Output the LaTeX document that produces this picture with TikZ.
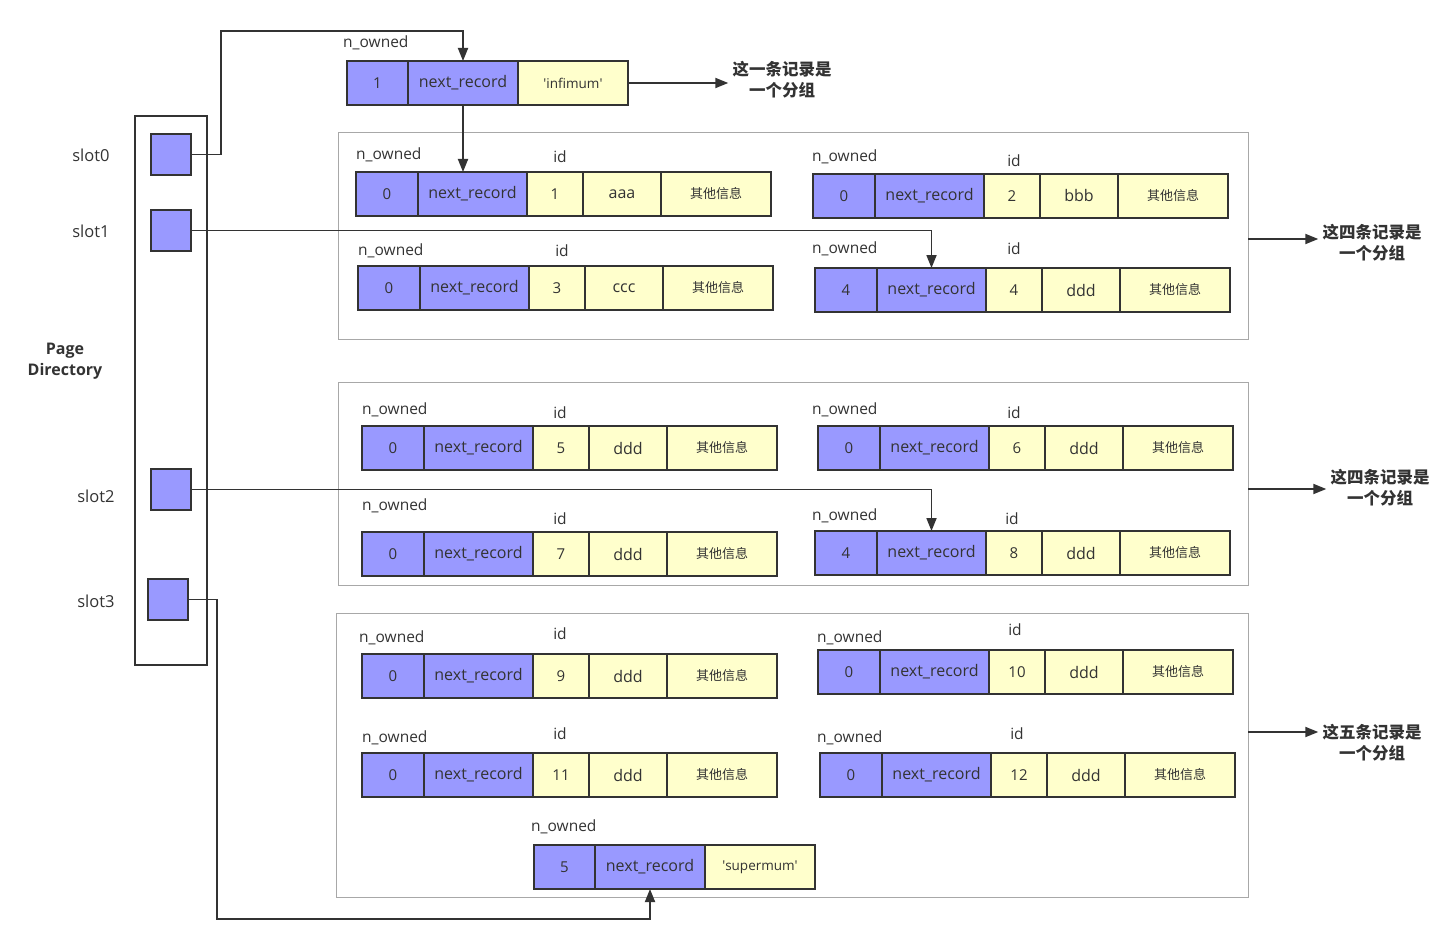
\documentclass[tikz,border=0pt]{standalone}
\usepackage{fontspec}
\setmainfont{Open Sans}
\newfontfamily\cjk{Noto Sans CJK SC}
\usetikzlibrary{arrows.meta}
\definecolor{cblue}{HTML}{9999FF}
\definecolor{cyel}{HTML}{FFFFCC}
\definecolor{cline}{HTML}{333333}
\definecolor{cgrey}{HTML}{A8A8A8}
\tikzset{
  cell/.style={draw=cline, line width=2pt, outer sep=0pt, inner sep=0pt,
    minimum height=44pt, anchor=north west, text=cline,
    font=\fontsize{15}{18}\selectfont},
  bcell/.style={cell, fill=cblue},
  ycell/.style={cell, fill=cyel},
  nrtext/.style={font=\fontsize{16}{19}\selectfont},
  smcjk/.style={font=\cjk\fontsize{13}{16}\selectfont},
  quoted/.style={font=\fontsize{13.5}{16}\selectfont},
  lab/.style={text=cline, inner sep=0pt, font=\fontsize{15.5}{18}\selectfont},
  slotbox/.style={draw=cline, line width=2pt, fill=cblue, outer sep=0pt,
    minimum width=40pt, minimum height=41pt, anchor=north west, inner sep=0pt},
  slotlab/.style={text=cline, font=\fontsize{16.5}{19}\selectfont},
  grp/.style={draw=cgrey, line width=1pt, anchor=north west, inner sep=0pt, outer sep=0pt},
  pdbox/.style={draw=cline, line width=2pt, anchor=north west, inner sep=0pt, outer sep=0pt},
  grplab/.style={text=cline, align=center, inner sep=4pt,
    font=\cjk\bfseries\fontsize{16.5}{21}\selectfont},
  pdlab/.style={text=cline, align=center, font=\bfseries\fontsize{16}{21}\selectfont},
  arr/.style={draw=cline, line width=1.8pt, -{Triangle[length=13pt,width=10pt]}},
}
\newcommand\myrec[8]{%
  \node[bcell, minimum width=62pt] (#1a) at (#2,#3) {#4};
  \node[bcell, minimum width=109pt, nrtext] (#1b) at (#1a.north east) {next\_record};
  \node[ycell, minimum width=56pt] (#1c) at (#1b.north east) {#5};
  \node[ycell, minimum width=78pt, nrtext] (#1d) at (#1c.north east) {#6};
  \node[ycell, minimum width=110pt, smcjk] (#1e) at (#1d.north east) {其他信息};
  \node[lab, anchor=west] (#1n) at (#7) {n\_owned};
  \node[lab] (#1i) at (#8) {id};
}
\begin{document}
\begin{tikzpicture}[x=1pt,y=-1pt]
\useasboundingbox (0,0) rectangle (1456,944);

% groups
\node[grp, minimum width=910pt, minimum height=206pt] (g1) at (338,133) {};
\node[grp, minimum width=910pt, minimum height=203pt] (g2) at (338,382) {};
\node[grp, minimum width=912pt, minimum height=284pt] (g3) at (336,613) {};

% page directory
\node[pdbox, minimum width=72pt, minimum height=549pt] (pd) at (135,116) {};
\node[slotbox] (s0) at (151,134) {};
\node[slotbox] (s1) at (151,210) {};
\node[slotbox] (s2) at (151,469) {};
\node[slotbox] (s3) at (148,579) {};
\node[slotlab] (l0) at (91,155) {slot0};
\node[slotlab] (l1) at (91,231) {slot1};
\node[slotlab] (l2) at (96,496) {slot2};
\node[slotlab] (l3) at (96,601) {slot3};
\node[pdlab] (pdl) at (65,361) {Page\\Directory};

% infimum
\node[bcell, minimum width=61pt] (infa) at (347,61) {1};
\node[bcell, minimum width=110pt, nrtext] (infb) at (infa.north east) {next\_record};
\node[ycell, minimum width=110pt, quoted] (infc) at (infb.north east) {\textquotesingle infimum\textquotesingle};
\node[lab, anchor=west] (infn) at (343,43) {n\_owned};
\node[grplab] (infl) at (782,80) {这一条记录是\\一个分组};

% records
\myrec{r1}{356}{172}{0}{1}{aaa}{356,155}{560,157}
\myrec{r2}{813}{174}{0}{2}{bbb}{812,157}{1014,161}
\myrec{r3}{358}{266}{0}{3}{ccc}{358,251}{562,251}
\myrec{r4}{815}{268}{4}{4}{ddd}{812,249}{1014,249}
\myrec{r5}{362}{426}{0}{5}{ddd}{362,410}{560,413}
\myrec{r6}{818}{426}{0}{6}{ddd}{812,410}{1014,413}
\myrec{r7}{362}{532}{0}{7}{ddd}{362,506}{560,519}
\myrec{r8}{815}{531}{4}{8}{ddd}{812,516}{1012,519}
\myrec{r9}{362}{654}{0}{9}{ddd}{359,638}{560,634}
\myrec{r10}{818}{650}{0}{10}{ddd}{817,638}{1015,630}
\myrec{r11}{362}{753}{0}{11}{ddd}{362,738}{560,734}
\myrec{r12}{820}{753}{0}{12}{ddd}{817,738}{1017,734}

% supremum
\node[bcell, minimum width=61pt] (supa) at (534,845) {5};
\node[bcell, minimum width=110pt, nrtext] (supb) at (supa.north east) {next\_record};
\node[ycell, minimum width=110pt, quoted] (supc) at (supb.north east) {\textquotesingle supermum\textquotesingle};
\node[lab, anchor=west] (supn) at (531,827) {n\_owned};

% group labels
\node[grplab] (gl1) at (1372,243) {这四条记录是\\一个分组};
\node[grplab] (gl2) at (1380,488) {这四条记录是\\一个分组};
\node[grplab] (gl3) at (1372,743) {这五条记录是\\一个分组};

% connectors
\draw[arr] (s0.east) -| (221,31) -| (infb.north);
\draw[arr] (infb.south) -- (infb.south |- r1b.north);
\draw[arr] (s1.east) -| (r4b.north);
\draw[arr] (s2.east) -| (r8b.north);
\draw[arr] (s3.east) -| (217,919) -| (supb.south);
\draw[arr] (infc.east) -- (infc.east -| infl.west);
\draw[arr] (g1.east |- 0,239) -- (gl1.west |- 0,239);
\draw[arr] (g2.east |- 0,489) -- (gl2.west |- 0,489);
\draw[arr] (g3.east |- 0,732) -- (gl3.west |- 0,732);
\end{tikzpicture}
\end{document}
